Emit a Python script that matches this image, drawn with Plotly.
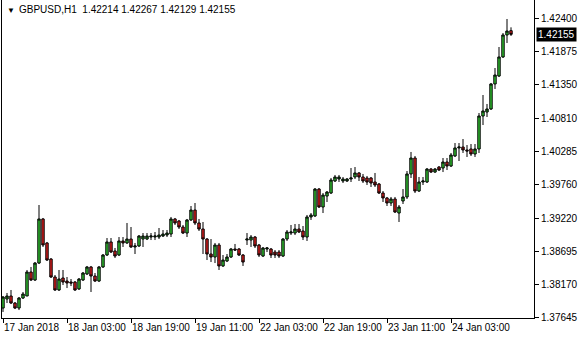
import plotly.graph_objects as go

time_labels = ["17 Jan 2018", "18 Jan 03:00", "18 Jan 19:00", "19 Jan 11:00",
               "22 Jan 03:00", "22 Jan 19:00", "23 Jan 11:00", "24 Jan 03:00"]
label_bars = [0, 16, 32, 48, 64, 80, 96, 112]
price_ticks = [1.37645, 1.38170, 1.38695, 1.39220, 1.39760, 1.40285,
               1.40810, 1.41350, 1.41875, 1.42400]
last_price = 1.42155

opens = [1.37788, 1.37932, 1.37980, 1.37868, 1.37788, 1.37948, 1.37980, 1.38363, 1.38235, 1.38506,
         1.39209, 1.38826, 1.38570, 1.38283, 1.38076, 1.38267, 1.38219, 1.38203, 1.38203, 1.38092,
         1.38235, 1.38331, 1.38443, 1.38299, 1.38219, 1.38443, 1.38634, 1.38842, 1.38698, 1.38634,
         1.38858, 1.38826, 1.38889, 1.38762, 1.38778, 1.38889, 1.38889, 1.38921, 1.38921, 1.38921,
         1.38937, 1.38953, 1.38969, 1.39209, 1.39177, 1.39081, 1.38985, 1.39193, 1.39352, 1.39145,
         1.39049, 1.38889, 1.38650, 1.38602, 1.38794, 1.38459, 1.38538, 1.38602, 1.38730, 1.38730,
         1.38634, 1.38873, 1.38873, 1.38921, 1.38794, 1.38618, 1.38730, 1.38730, 1.38682, 1.38682,
         1.38618, 1.38889, 1.38985, 1.38985, 1.39049, 1.39017, 1.38921, 1.39241, 1.39257, 1.39687,
         1.39400, 1.39575, 1.39623, 1.39815, 1.39847, 1.39815, 1.39815, 1.39847, 1.39879, 1.39943,
         1.39879, 1.39863, 1.39863, 1.39799, 1.39767, 1.39623, 1.39544, 1.39464, 1.39528, 1.39304,
         1.39496, 1.39560, 1.39927, 1.40182, 1.39655, 1.39799, 1.39799, 1.40006, 1.39958, 1.40038,
         1.40022, 1.40118, 1.40054, 1.40214, 1.40342, 1.40357, 1.40310, 1.40326, 1.40246, 1.40326,
         1.40852, 1.40916, 1.40964, 1.41363, 1.41490, 1.41794, 1.42145, 1.42214]

highs = [1.37980, 1.38028, 1.38076, 1.37884, 1.37964, 1.38044, 1.38395, 1.38443, 1.38522, 1.39432,
         1.39225, 1.38842, 1.38586, 1.38315, 1.38395, 1.38395, 1.38283, 1.38251, 1.38219, 1.38267,
         1.38363, 1.38459, 1.38459, 1.38347, 1.38459, 1.38650, 1.38905, 1.38905, 1.38746, 1.38921,
         1.38921, 1.39145, 1.39081, 1.38826, 1.38953, 1.38985, 1.38985, 1.38985, 1.39001, 1.39065,
         1.39033, 1.39033, 1.39241, 1.39225, 1.39193, 1.39113, 1.39209, 1.39416, 1.39464, 1.39209,
         1.39161, 1.38905, 1.38889, 1.38826, 1.38826, 1.38634, 1.38650, 1.38746, 1.38810, 1.38746,
         1.38650, 1.38985, 1.38953, 1.38937, 1.38810, 1.38762, 1.38762, 1.38746, 1.38714, 1.38714,
         1.38905, 1.39033, 1.39113, 1.39129, 1.39129, 1.39097, 1.39273, 1.39304, 1.39703, 1.39703,
         1.39623, 1.39655, 1.39863, 1.39911, 1.39911, 1.39879, 1.39863, 1.40022, 1.40038, 1.39958,
         1.39927, 1.39895, 1.39879, 1.39943, 1.39783, 1.39655, 1.39560, 1.39560, 1.39560, 1.39432,
         1.39687, 1.39974, 1.40278, 1.40214, 1.39879, 1.39879, 1.40022, 1.40022, 1.40022, 1.40054,
         1.40182, 1.40182, 1.40262, 1.40421, 1.40421, 1.40485, 1.40389, 1.40405, 1.40405, 1.40900,
         1.41187, 1.41044, 1.41379, 1.41618, 1.41953, 1.42176, 1.42400, 1.42267]

lows = [1.37725, 1.37868, 1.37852, 1.37772, 1.37756, 1.37932, 1.37980, 1.38219, 1.38219, 1.38490,
        1.38762, 1.38538, 1.38267, 1.38060, 1.38060, 1.38155, 1.38107, 1.38139, 1.38060, 1.38076,
        1.38219, 1.38315, 1.38044, 1.38203, 1.38203, 1.38427, 1.38618, 1.38666, 1.38586, 1.38618,
        1.38762, 1.38810, 1.38746, 1.38650, 1.38762, 1.38762, 1.38873, 1.38873, 1.38873, 1.38889,
        1.38921, 1.38921, 1.38921, 1.39113, 1.39049, 1.38969, 1.38921, 1.39177, 1.39113, 1.39017,
        1.38650, 1.38554, 1.38522, 1.38506, 1.38395, 1.38443, 1.38522, 1.38586, 1.38698, 1.38618,
        1.38459, 1.38794, 1.38762, 1.38746, 1.38602, 1.38602, 1.38682, 1.38586, 1.38586, 1.38586,
        1.38602, 1.38858, 1.38953, 1.38953, 1.38985, 1.38873, 1.38858, 1.39193, 1.39241, 1.39384,
        1.39304, 1.39480, 1.39607, 1.39799, 1.39799, 1.39783, 1.39799, 1.39799, 1.39847, 1.39815,
        1.39783, 1.39751, 1.39719, 1.39719, 1.39607, 1.39480, 1.39416, 1.39416, 1.39304, 1.39161,
        1.39448, 1.39528, 1.39863, 1.39623, 1.39639, 1.39751, 1.39783, 1.39943, 1.39943, 1.39974,
        1.39958, 1.39990, 1.40038, 1.40198, 1.40134, 1.40262, 1.40198, 1.40214, 1.40198, 1.40262,
        1.40708, 1.40836, 1.40948, 1.41283, 1.41474, 1.41778, 1.42017, 1.42129]

closes = [1.37964, 1.37980, 1.37868, 1.37788, 1.37948, 1.38012, 1.38363, 1.38235, 1.38506, 1.39209,
          1.38794, 1.38554, 1.38283, 1.38076, 1.38251, 1.38203, 1.38187, 1.38187, 1.38076, 1.38251,
          1.38347, 1.38443, 1.38299, 1.38219, 1.38443, 1.38634, 1.38842, 1.38682, 1.38618, 1.38858,
          1.38826, 1.38889, 1.38762, 1.38778, 1.38937, 1.38937, 1.38937, 1.38937, 1.38937, 1.38953,
          1.38969, 1.38985, 1.39209, 1.39145, 1.39081, 1.38985, 1.39193, 1.39352, 1.39145, 1.39049,
          1.38889, 1.38650, 1.38602, 1.38794, 1.38459, 1.38554, 1.38602, 1.38730, 1.38714, 1.38634,
          1.38522, 1.38889, 1.38921, 1.38778, 1.38634, 1.38746, 1.38746, 1.38634, 1.38634, 1.38618,
          1.38889, 1.39001, 1.39001, 1.39049, 1.39001, 1.38921, 1.39241, 1.39273, 1.39687, 1.39400,
          1.39591, 1.39639, 1.39831, 1.39879, 1.39879, 1.39847, 1.39847, 1.39863, 1.39943, 1.39879,
          1.39815, 1.39799, 1.39783, 1.39751, 1.39623, 1.39544, 1.39464, 1.39528, 1.39320, 1.39400,
          1.39560, 1.39927, 1.40182, 1.39655, 1.39799, 1.39815, 1.40006, 1.39958, 1.40006, 1.39990,
          1.40118, 1.40054, 1.40230, 1.40342, 1.40357, 1.40310, 1.40294, 1.40246, 1.40326, 1.40852,
          1.40932, 1.40964, 1.41363, 1.41506, 1.41794, 1.42145, 1.42208, 1.42155]

bars = list(range(len(opens)))
FONT = "Liberation Sans"

fig = go.Figure(go.Candlestick(
    x=bars, open=opens, high=highs, low=lows, close=closes,
    increasing=dict(line=dict(color="black", width=1), fillcolor="#32c832"),
    decreasing=dict(line=dict(color="black", width=1), fillcolor="#e01e1e"),
    whiskerwidth=0, hoverinfo="skip",
))

fig.update_layout(
    width=580, height=340,
    margin=dict(l=2, r=46, t=0, b=22),
    paper_bgcolor="white", plot_bgcolor="white",
    showlegend=False,
    boxgap=0.4, boxgroupgap=0,
    font=dict(family=FONT, size=10, color="black"),
    xaxis=dict(
        range=[-0.25, 132.75], rangeslider=dict(visible=False),
        showgrid=False, zeroline=False,
        showline=True, linecolor="black", linewidth=1, mirror=True,
        ticks="outside", ticklen=4, tickcolor="black", tickwidth=1,
        tickvals=label_bars, ticktext=time_labels,
        ticklabelposition="outside right", tickangle=0,
        tickfont=dict(family=FONT, size=10, color="black"),
    ),
    yaxis=dict(
        side="right",
        range=[1.37629, 1.42703],
        showgrid=False, zeroline=False,
        showline=True, linecolor="black", linewidth=1, mirror=True,
        ticks="outside", ticklen=4, tickcolor="black", tickwidth=1,
        tickvals=price_ticks, ticktext=[f"{v:.5f}" for v in price_ticks],
        tickfont=dict(family=FONT, size=10, color="black"),
    ),
)

fig.add_annotation(
    xref="paper", yref="y", x=1, y=last_price, xanchor="left", yanchor="middle",
    xshift=2, text=f"{last_price:.5f}", showarrow=False,
    bgcolor="black", font=dict(family=FONT, size=10, color="white"), borderpad=1,
)
fig.add_annotation(
    xref="paper", yref="paper", x=0, y=1, xanchor="left", yanchor="top",
    xshift=3, yshift=-4, text="▼", showarrow=False,
    font=dict(family=FONT, size=8, color="black"),
)
fig.add_annotation(
    xref="paper", yref="paper", x=0, y=1, xanchor="left", yanchor="top",
    xshift=15, yshift=-2,
    text=f"GBPUSD,H1\u00a0\u00a0{opens[-1]:.5f} {highs[-1]:.5f} {lows[-1]:.5f} {closes[-1]:.5f}",
    showarrow=False, font=dict(family=FONT, size=10, color="black"),
)

fig.write_html("out.html", config={"displayModeBar": False})
